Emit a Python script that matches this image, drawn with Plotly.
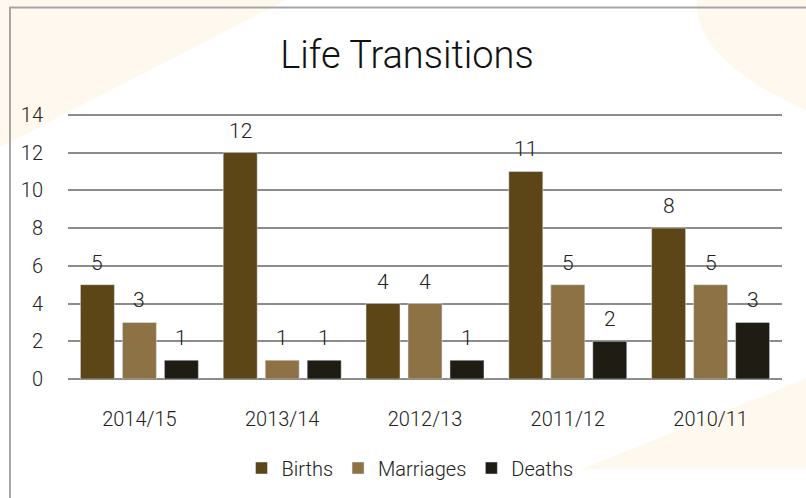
import plotly.graph_objects as go

years = ["2014/15", "2013/14", "2012/13", "2011/12", "2010/11"]
births = [5, 12, 4, 11, 8]
marriages = [3, 1, 4, 5, 5]
deaths = [1, 1, 1, 2, 3]
y_ticks = [0, 2, 4, 6, 8, 10, 12, 14]

FONT = "Roboto, Lato, sans-serif"
CREAM = "rgb(255,248,238)"
GRID = "#8C8C8C"

series = [("Births", births, "#5C4617", -42),
          ("Marriages", marriages, "#8C7244", 0),
          ("Deaths", deaths, "#1F1C14", 42)]

fig = go.Figure()
annotations = []
for name, vals, col, shift in series:
    fig.add_trace(go.Bar(x=years, y=vals, name=name, marker=dict(color=col)))
    # value labels above each bar
    for yr, v in zip(years, vals):
        annotations.append(dict(x=yr, y=v, xref="x", yref="y", text=str(v),
                                showarrow=False, xshift=shift, yshift=22,
                                font=dict(size=21, color="#222", family=FONT, weight=300)))

# plot area is 68..782 x 112..380 px (y range 0..14.15)
TOP = 112
def px(x):
    return (x - 68) / 714

def py(y):
    return (380 - y) / (380 - TOP)

shapes = [
    # faint background decorations
    dict(type="path", xref="paper", yref="paper", layer="below",
         path=f"M {px(-5)},{py(-5)} L {px(295)},{py(-5)} L {px(-5)},{py(150)} Z",
         fillcolor=CREAM, line=dict(width=0)),
    dict(type="path", xref="paper", yref="paper", layer="below",
         path=(f"M {px(697)},{py(-5)} Q {px(690)},{py(60)} {px(810)},{py(112)} "
               f"L {px(810)},{py(-5)} Z"),
         fillcolor=CREAM, line=dict(width=0)),
    dict(type="path", xref="paper", yref="paper", layer="below",
         path=f"M {px(580)},{py(471)} L {px(810)},{py(378)} L {px(810)},{py(471)} Z",
         fillcolor=CREAM, line=dict(width=0)),
    # chart frame
    dict(type="rect", xref="paper", yref="paper", layer="below",
         x0=px(10), x1=px(820), y0=py(520), y1=py(7),
         line=dict(color="#A6A6A6", width=2), fillcolor="rgba(0,0,0,0)"),
]

fig.update_layout(
    width=806, height=498,
    margin=dict(l=68, r=24, t=TOP, b=118),
    paper_bgcolor="white", plot_bgcolor="rgba(0,0,0,0)",
    barmode="group", bargap=0.118, bargroupgap=0.19,
    title=dict(text="Life Transitions", x=px(407), xanchor="center", xref="paper",
               y=0.89, yanchor="middle",
               font=dict(size=38, color="#111", family=FONT, weight=300)),
    font=dict(family=FONT, color="#222", size=20, weight=300),
    showlegend=True,
    legend=dict(orientation="h", x=px(410), xanchor="center", y=py(468), yanchor="middle",
                font=dict(size=20, color="#222", weight=300), itemwidth=30,
                traceorder="normal"),
    annotations=annotations,
    shapes=shapes,
    xaxis=dict(showgrid=False, showline=False, ticks="outside", ticklen=22,
               tickcolor="rgba(0,0,0,0)", tickfont=dict(size=20, weight=300)),
    yaxis=dict(range=[0, 14.15], tickvals=y_ticks, showgrid=True, gridcolor=GRID,
               gridwidth=2, zeroline=True, zerolinecolor=GRID, zerolinewidth=2,
               ticks="outside", ticklen=20,
               tickcolor="rgba(0,0,0,0)", tickfont=dict(size=20, weight=300)),
)

fig.write_html("out.html", config={"displayModeBar": False},
               post_script="document.body.style.margin='0px';")
